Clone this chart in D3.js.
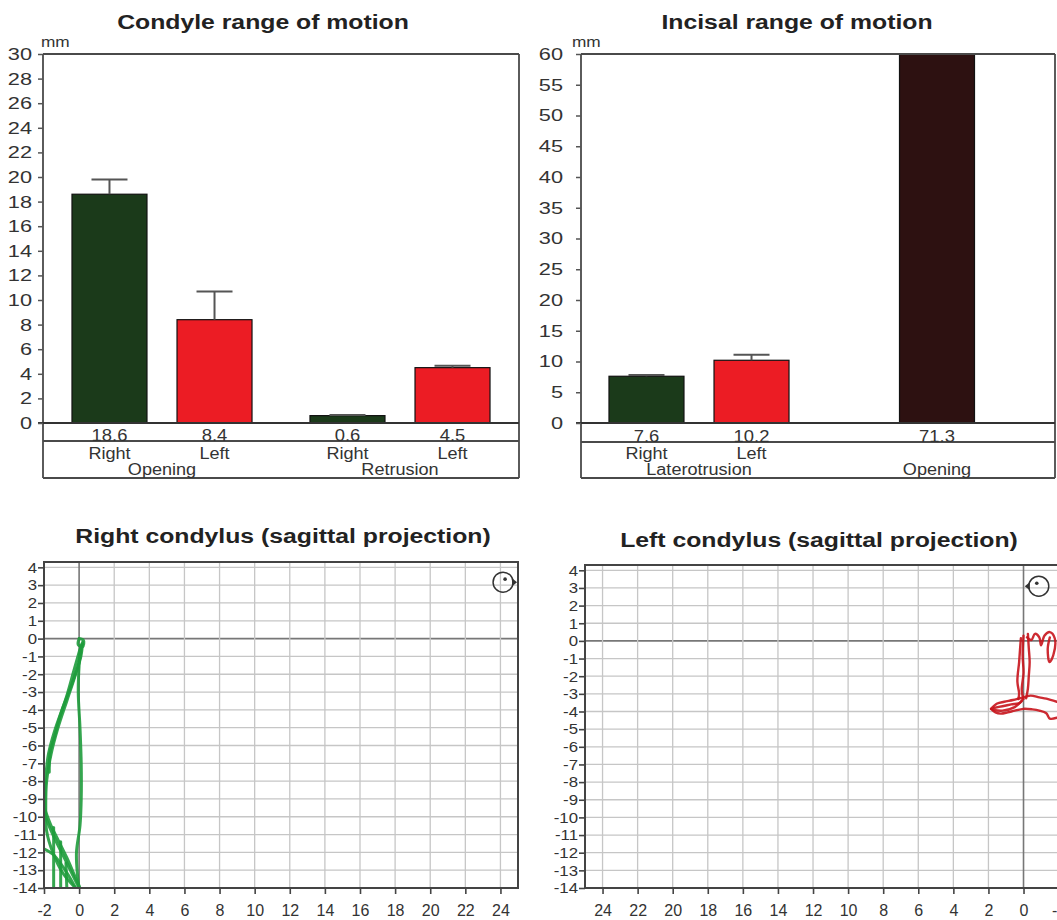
<!DOCTYPE html>
<html>
<head>
<meta charset="utf-8">
<script src="https://cdn.jsdelivr.net/npm/d3@7"></script>
<style>
body { margin: 0; background: #fff; }
svg { display: block; font-family: "Liberation Sans", Arial, sans-serif; }
</style>
</head>
<body>
<svg id="chart" width="1057" height="920"></svg>
<script>
// condyle range of motion
var condyleGroups = ["Opening", "Opening", "Retrusion", "Retrusion"];
var condyleSides = ["Right", "Left", "Right", "Left"];
var condyleValues = [18.6, 8.4, 0.6, 4.5];
var condyleErrors = [1.2, 2.3, 0.05, 0.15];
var condyleTicks = d3.range(0, 31, 2);

// incisal range of motion
var incisalGroups = ["Laterotrusion", "Laterotrusion", "Opening"];
var incisalSides = ["Right", "Left", ""];
var incisalValues = [7.6, 10.2, 71.3];
var incisalErrors = [0.2, 0.9, 0];
var incisalTicks = d3.range(0, 61, 5);

// sagittal projections
var sagittalYTicks = d3.range(-14, 5, 1);
var sagittalXTicks = d3.range(-2, 25, 2);

var rightTraces = [
    [[0, 0], [0.25, -0.1], [0.2, -0.45], [-0.05, -0.35], [0, 0]],
    [[0.2, -0.2], [0.1, -1], [-0.2, -2], [-0.7, -3.5], [-1.2, -5], [-1.6, -6.5], [-1.85, -8], [-1.9, -9.5], [-1.85, -10.8], [-1.5, -12], [-0.9, -13.2], [-0.2, -14]],
    [[0.15, -0.3], [0, -1.3], [-0.4, -2.5], [-0.9, -3.8], [-1.4, -5.2], [-1.75, -6.5], [-1.9, -7.8], [-1.95, -9.2], [-1.9, -10], [-1.4, -11.2], [-0.9, -12.2], [-0.4, -13.2], [0, -14]],
    [[0.05, -0.6], [-0.3, -1.8], [-0.7, -3.2], [-1.1, -4.4], [-1.4, -5.5], [-1.65, -6.4], [-1.7, -7.5]],
    [[0.1, -0.4], [0, -1.5], [-0.05, -3], [0.05, -5], [0.12, -7], [0.12, -9], [0.05, -10.5], [-0.15, -12], [-0.1, -13.2], [0, -14]],
    [[-2.0, -11.8], [-1.5, -12.1], [-1.0, -12.7], [-0.6, -13.3], [-0.2, -14]],
    [[-1.95, -9.6], [-1.6, -10.5], [-1.2, -11.3], [-0.7, -12.3], [-0.3, -13.2], [0.05, -14]],
    [[-1.45, -10.6], [-1.45, -14]],
    [[-1.05, -11.4], [-1.05, -14]],
    [[-0.75, -12.6], [-0.7, -14]]
];

var leftTraces = [
    [[0.15, 0.15], [0.2, -0.5], [0.25, -1.2], [0.35, -2.3], [0.25, -3.0], [0.3, -3.3]],
    [[-0.25, 0.4], [-0.3, -0.4], [-0.35, -1.2], [-0.3, -2.0], [-0.25, -2.7], [-0.15, -3.25]],
    [[0.0, 0.3], [0.05, -0.8], [0.0, -1.8], [0.1, -2.8], [0.0, -3.3]],
    [[-0.2, 0.2], [-0.45, 0.05], [-0.65, 0.4], [-0.9, 0.2], [-1.0, -0.25], [-1.2, 0.3], [-1.5, 0.5], [-1.78, 0.15], [-1.7, -0.8], [-1.48, -1.2], [-1.38, -0.45], [-1.5, 0.2]],
    [[1.85, -3.85], [1.5, -3.55], [1.1, -3.45], [0.6, -3.35], [0.2, -3.25], [-0.4, -3.1], [-0.9, -3.2], [-1.3, -3.27], [-1.9, -3.45]],
    [[1.85, -3.85], [1.6, -4.05], [1.3, -4.12], [0.9, -4.05], [0.5, -3.95], [0, -3.85], [-0.5, -3.88], [-0.9, -3.95], [-1.3, -4.1], [-1.5, -4.4], [-1.9, -4.35]],
    [[1.7, -3.8], [1.2, -3.7], [0.7, -3.6], [0.2, -3.5], [0.05, -3.3]],
    [[1.75, -3.9], [1.2, -3.95], [0.5, -3.75], [0.1, -3.4]]
];

var sideColor = { "Right": "#1b3a1a", "Left": "#ec1c24", "": "#2d1111" };

var svg = d3.select("#chart");

function addText(parent, x, y, txt, o) {
    return parent.append("text")
        .attr("transform", "translate(" + x + "," + y + ") scale(" + (o.sx || 1) + ",1)")
        .attr("text-anchor", o.anchor || "middle")
        .style("font-size", o.size + "px")
        .style("font-weight", o.weight || "normal")
        .attr("fill", o.fill || "#333")
        .text(txt);
}

function barPanel(p) {
    var g = svg.append("g");
    var y = d3.scaleLinear().domain([0, p.max]).range([p.zero, p.top]).clamp(true);
    var groupNames = Array.from(new Set(p.groups));
    var gx = d3.scaleBand().domain(groupNames).range([p.bandLeft, p.bandRight]);
    var sx = d3.scaleBand().domain(["Right", "Left"]).range([0, gx.bandwidth()])
        .paddingInner(0.286).paddingOuter(0.276);
    var bw = sx.bandwidth();
    var idx = d3.range(p.values.length);
    function barX(i) {
        return p.sides[i] ? gx(p.groups[i]) + sx(p.sides[i])
            : gx(p.groups[i]) + (gx.bandwidth() - bw) / 2;
    }

    addText(g, p.titleX, 29, p.title, { size: 21, sx: 1.18, weight: "bold", fill: "#222" });
    addText(g, p.mmX, 47, "mm", { size: 15, sx: 1.15, anchor: "start" });

    g.selectAll("rect.bar").data(idx).join("rect")
        .attr("class", "bar")
        .attr("x", barX)
        .attr("y", function (i) { return y(p.values[i]); })
        .attr("width", bw)
        .attr("height", function (i) { return p.zero - y(p.values[i]); })
        .attr("fill", function (i) { return sideColor[p.sides[i]]; })
        .attr("stroke", "#111")
        .attr("stroke-width", 1.2);

    var err = idx.filter(function (i) { return p.errors[i] > 0; });
    g.selectAll("line.errv").data(err).join("line")
        .attr("x1", function (i) { return barX(i) + bw / 2; })
        .attr("x2", function (i) { return barX(i) + bw / 2; })
        .attr("y1", function (i) { return y(p.values[i]); })
        .attr("y2", function (i) { return y(p.values[i] + p.errors[i]); })
        .attr("stroke", "#555").attr("stroke-width", 2);
    g.selectAll("line.errc").data(err).join("line")
        .attr("x1", function (i) { return barX(i) + bw / 2 - 18; })
        .attr("x2", function (i) { return barX(i) + bw / 2 + 18; })
        .attr("y1", function (i) { return y(p.values[i] + p.errors[i]); })
        .attr("y2", function (i) { return y(p.values[i] + p.errors[i]); })
        .attr("stroke", "#555").attr("stroke-width", 2);

    // frame and table rows
    var fr = g.append("g").attr("stroke", "#4a4a4a").attr("stroke-width", 1.8);
    fr.append("line").attr("x1", p.left).attr("x2", p.right).attr("y1", p.top).attr("y2", p.top);
    fr.append("line").attr("x1", p.right).attr("x2", p.right).attr("y1", p.top).attr("y2", p.bottom);
    fr.append("line").attr("x1", p.left).attr("x2", p.left).attr("y1", p.top).attr("y2", p.bottom);
    fr.append("line").attr("x1", p.left - 5).attr("x2", p.right).attr("y1", p.zero).attr("y2", p.zero).attr("stroke", "#333");
    fr.append("line").attr("x1", p.left).attr("x2", p.right).attr("y1", p.rowLine).attr("y2", p.rowLine);
    fr.append("line").attr("x1", p.left).attr("x2", p.right).attr("y1", p.bottom).attr("y2", p.bottom);

    var ax = g.append("g").attr("transform", "translate(" + p.left + ",0)")
        .call(d3.axisLeft(y).tickValues(p.ticks).tickSize(5).tickFormat(function (d) { return String(d); }));
    ax.attr("font-family", null).attr("font-size", null);
    ax.select(".domain").remove();
    ax.selectAll("line").attr("stroke", "#555").attr("stroke-width", 1.5);
    ax.selectAll("text").attr("x", -p.labelGap / 1.28).attr("transform", "scale(1.28,1)")
        .style("font-size", "17px").attr("fill", "#333");

    idx.forEach(function (i) {
        var cx = barX(i) + bw / 2;
        addText(g, cx, p.rowLine, d3.format(".1f")(p.values[i]), { size: 16, sx: 1.15 });
        if (p.sides[i]) addText(g, cx, 459, p.sides[i], { size: 16, sx: 1.13 });
    });
    groupNames.forEach(function (n) {
        addText(g, gx(n) + gx.bandwidth() / 2, 475, n, { size: 16, sx: 1.13 });
    });
}

function sagPanel(p) {
    var g = svg.append("g");
    var x = d3.scaleLinear().domain(p.xDomain).range([p.left, p.right]);
    var y = d3.scaleLinear().domain([-14, 4.3]).range([p.bottom, p.top]);

    addText(g, p.titleX, p.titleY, p.title, { size: 21, sx: 1.18, weight: "bold", fill: "#222" });

    g.selectAll("line.hg").data(sagittalYTicks).join("line")
        .attr("x1", p.left).attr("x2", p.right)
        .attr("y1", function (d) { return y(d); }).attr("y2", function (d) { return y(d); })
        .attr("stroke", function (d) { return d === 0 ? "#777" : "#c6c6c6"; })
        .attr("stroke-width", function (d) { return d === 0 ? 1.6 : 1.3; });
    g.selectAll("line.vg").data(sagittalXTicks).join("line")
        .attr("y1", p.top).attr("y2", p.bottom)
        .attr("x1", function (d) { return x(d); }).attr("x2", function (d) { return x(d); })
        .attr("stroke", function (d) { return d === 0 ? "#777" : "#c6c6c6"; })
        .attr("stroke-width", function (d) { return d === 0 ? 1.6 : 1.3; });

    var clipId = p.id + "-clip";
    g.append("clipPath").attr("id", clipId).append("rect")
        .attr("x", p.left).attr("y", p.top).attr("width", p.right - p.left).attr("height", p.bottom - p.top);
    var line = d3.line().x(function (d) { return x(d[0]); }).y(function (d) { return y(d[1]); })
        .curve(d3.curveCatmullRom);
    g.append("g").attr("clip-path", "url(#" + clipId + ")")
        .selectAll("path").data(p.traces).join("path")
        .attr("d", line)
        .attr("fill", "none")
        .attr("stroke", p.color)
        .attr("stroke-width", p.width)
        .attr("stroke-opacity", 0.9)
        .attr("stroke-linejoin", "round")
        .attr("stroke-linecap", "round");

    // orientation icon
    var ix = x(p.icon[0]), iy = y(p.icon[1]), dir = p.icon[2];
    g.append("circle").attr("cx", ix).attr("cy", iy).attr("r", 10)
        .attr("fill", "none").attr("stroke", "#333").attr("stroke-width", 1.5);
    g.append("circle").attr("cx", ix + dir * 2).attr("cy", iy - 3).attr("r", 1.8).attr("fill", "#333");
    g.append("path")
        .attr("d", "M" + (ix + dir * 9) + "," + (iy - 4) + "L" + (ix + dir * 14) + "," + iy + "L" + (ix + dir * 9) + "," + (iy + 4) + "Z")
        .attr("fill", "#333");

    g.append("rect").attr("x", p.left).attr("y", p.top)
        .attr("width", p.right - p.left).attr("height", p.bottom - p.top)
        .attr("fill", "none").attr("stroke", "#444").attr("stroke-width", 2);

    var ay = g.append("g").attr("transform", "translate(" + p.left + ",0)")
        .call(d3.axisLeft(y).tickValues(sagittalYTicks).tickSize(6).tickFormat(function (d) { return String(d); }));
    ay.attr("font-family", null).attr("font-size", null);
    ay.select(".domain").remove();
    ay.selectAll("line").attr("stroke", "#444").attr("stroke-width", 1.6);
    ay.selectAll("text").attr("x", -7 / 1.12).attr("transform", "scale(1.12,1)")
        .style("font-size", "15px").attr("fill", "#333");

    var axb = g.append("g").attr("transform", "translate(0," + p.bottom + ")")
        .call(d3.axisBottom(x).tickValues(sagittalXTicks).tickSize(6).tickPadding(11)
            .tickFormat(function (d) { return String(d); }));
    axb.attr("font-family", null).attr("font-size", null);
    axb.select(".domain").remove();
    axb.selectAll("line").attr("stroke", "#444").attr("stroke-width", 1.6);
    axb.selectAll("text").style("font-size", "16px").attr("fill", "#333");
}

barPanel({
    title: "Condyle range of motion", titleX: 263, mmX: 41,
    left: 43, right: 519, top: 54, zero: 423, rowLine: 441, bottom: 478,
    bandLeft: 43, bandRight: 519, max: 30, ticks: condyleTicks, labelGap: 11,
    groups: condyleGroups, sides: condyleSides, values: condyleValues, errors: condyleErrors
});

barPanel({
    title: "Incisal range of motion", titleX: 797, mmX: 572,
    left: 581, right: 1055, top: 54, zero: 423, rowLine: 442, bottom: 478,
    bandLeft: 580, bandRight: 1056, max: 60, ticks: incisalTicks, labelGap: 18,
    groups: incisalGroups, sides: incisalSides, values: incisalValues, errors: incisalErrors
});

sagPanel({
    id: "right", title: "Right condylus (sagittal projection)", titleX: 283, titleY: 543,
    left: 44, right: 518, top: 562, bottom: 888, xDomain: [-2, 25],
    traces: rightTraces, color: "#1f9c3c", width: 3, icon: [24.15, 3.17, 1]
});

sagPanel({
    id: "left", title: "Left condylus (sagittal projection)", titleX: 819, titleY: 547,
    left: 585, right: 1058.6, top: 565, bottom: 888, xDomain: [25, -2],
    traces: leftTraces, color: "#c8141c", width: 2.4, icon: [-0.87, 3.1, -1]
});
</script>
</body>
</html>
